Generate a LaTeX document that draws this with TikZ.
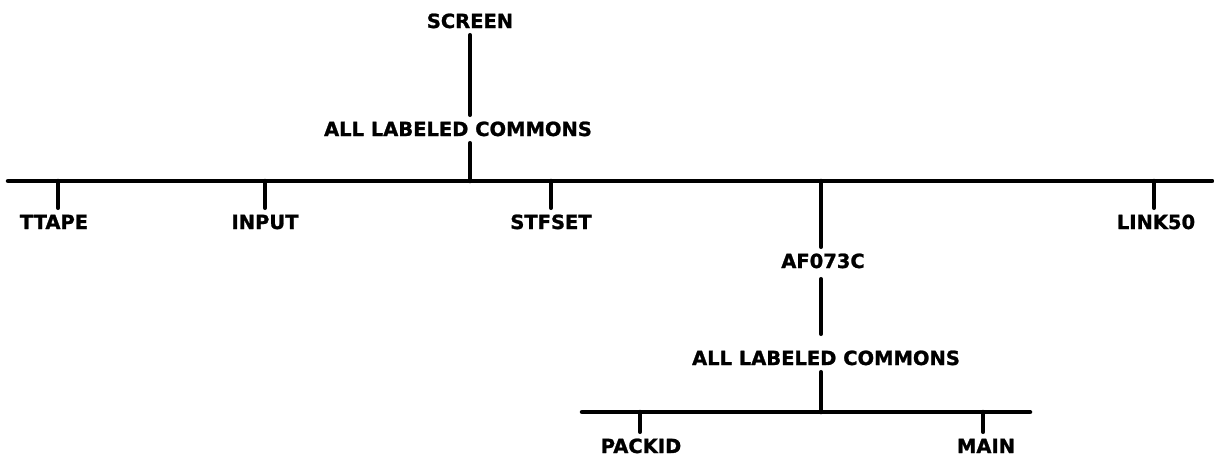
\documentclass[tikz,border=0pt]{standalone}
\usepackage{fontspec}
\setmainfont{DejaVu Sans}[BoldFeatures={FakeBold=1.2}]
\begin{document}
\begin{tikzpicture}[x=1pt,y=-1pt,
  lbl/.style={font=\fontsize{19.5}{19.5}\selectfont\bfseries, inner xsep=2pt, inner ysep=7pt, text height=14pt, text depth=0pt},
  wire/.style={line width=4.5pt, line cap=round}]
\useasboundingbox (0,0) rectangle (1214,459);
% labels
\node[lbl] (screen) at (470,21) {SCREEN};
\node[lbl] (alc1) at (458,129) {ALL LABELED COMMONS};
\node[lbl] (ttape) at (54,222) {TTAPE};
\node[lbl] (input) at (265,222) {INPUT};
\node[lbl] (stfset) at (551,222) {STFSET};
\node[lbl] (af) at (823,261) {AF073C};
\node[lbl] (link) at (1156,222) {LINK50};
\node[lbl] (alc2) at (826,358) {ALL LABELED COMMONS};
\node[lbl] (packid) at (641,446) {PACKID};
\node[lbl] (main) at (986,446) {MAIN};
% bus coordinates
\coordinate (busL) at (8,181);
\coordinate (busR) at (1212,181);
\coordinate (tC) at (470,181);
\coordinate (tT) at (58,181);
\coordinate (tI) at (265,181);
\coordinate (tS) at (551,181);
\coordinate (tA) at (821,181);
\coordinate (tL) at (1154,181);
\coordinate (lowL) at (582,412);
\coordinate (lowR) at (1030,412);
\coordinate (tP) at (640,412);
\coordinate (tM) at (983,412);
% connectors
\draw[wire] (screen.south) -- (screen.south |- alc1.north);
\draw[wire] (alc1.south -| tC) -- (tC);
\draw[wire] (busL) -- (busR);
\draw[wire] (tT) -- (tT |- ttape.north);
\draw[wire] (tI) -- (tI |- input.north);
\draw[wire] (tS) -- (tS |- stfset.north);
\draw[wire] (tA) -- (tA |- af.north);
\draw[wire] (tL) -- (tL |- link.north);
\draw[wire] ([yshift=-4pt]af.south -| tA) -- ([yshift=10pt]alc2.north -| tA);
\draw[wire] (alc2.south -| tA) -- (tA |- lowL);
\draw[wire] (lowL) -- (lowR);
\draw[wire] (tP) -- (tP |- packid.north);
\draw[wire] (tM) -- (tM |- main.north);
\end{tikzpicture}
\end{document}
